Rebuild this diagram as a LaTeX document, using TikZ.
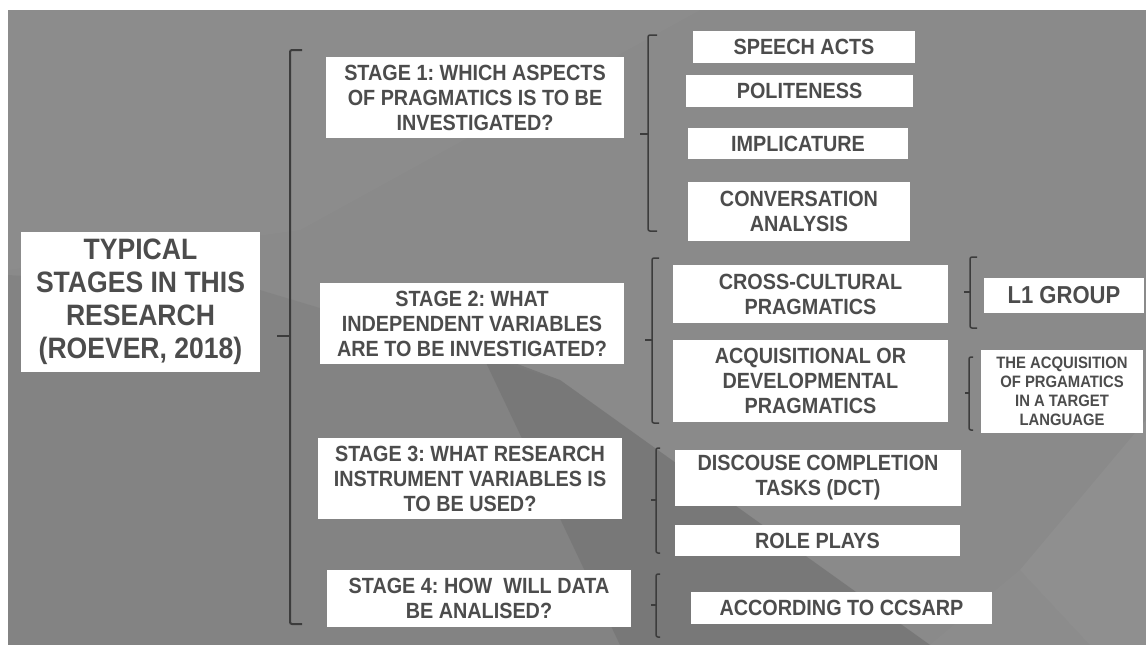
\documentclass[tikz,border=0pt]{standalone}
\usepackage{fontspec}
\setmainfont{Liberation Sans}[FakeStretch=0.9]
\frenchspacing
\definecolor{bg}{HTML}{8A8A8A}
\definecolor{bgdark}{HTML}{767676}
\definecolor{bglight}{HTML}{939393}
\definecolor{txt}{HTML}{4C4C4C}
\definecolor{brk}{HTML}{3C3C3C}
\tikzset{
  box/.style={fill=white, inner sep=0pt, align=center, text=txt,
    font=\bfseries\fontsize{22}{25}\selectfont},
  bigbox/.style={box, font=\bfseries\fontsize{29.5}{33}\selectfont},
  smallbox/.style={box, font=\bfseries\fontsize{16.5}{19}\selectfont},
  lbox/.style={box, font=\bfseries\fontsize{24.5}{26}\selectfont},
  brkt/.style={draw=brk, line width=2pt, rounded corners=2pt},
  sbrkt/.style={draw=brk, line width=1.5pt, rounded corners=2pt},
}
\begin{document}
\begin{tikzpicture}[x=1pt,y=-1pt]
\useasboundingbox (0,0) rectangle (1146,645);
\fill[white] (0,0) rectangle (1146,645);
% background
\fill[bg] (8,10) rectangle (1146,645);
\fill[bglight, opacity=0.3] (8,10) -- (700,10) -- (300,230) -- (8,270) -- cycle;
\fill[bgdark, opacity=0.3] (8,275) -- (260,290) -- (560,380) -- (930,645) -- (8,645) -- cycle;
\fill[bgdark, opacity=0.8] (480,350) -- (560,380) -- (930,645) -- (620,645) -- cycle;
\fill[bglight, opacity=0.6] (1146,420) -- (1020,570) -- (1090,645) -- (1146,645) -- cycle;
\fill[bglight, opacity=0.3] (1020,570) -- (930,645) -- (1090,645) -- cycle;

% root
\node[bigbox, minimum width=239pt, minimum height=140pt] (main) at (140.5,302)
  {TYPICAL\\STAGES IN THIS\\RESEARCH\\(ROEVER, 2018)};

% stages
\node[box, minimum width=298pt, minimum height=81pt] (s1) at (475,97.5)
  {STAGE 1: WHICH ASPECTS\\OF PRAGMATICS IS TO BE\\INVESTIGATED?};
\node[box, minimum width=304pt, minimum height=81pt] (s2) at (472,323.5)
  {STAGE 2: WHAT\\INDEPENDENT VARIABLES\\ARE TO BE INVESTIGATED?};
\node[box, minimum width=304pt, minimum height=81pt] (s3) at (470,478.5)
  {STAGE 3: WHAT RESEARCH\\INSTRUMENT VARIABLES IS\\TO BE USED?};
\node[box, minimum width=304pt, minimum height=57pt] (s4) at (479,598.5)
  {STAGE 4: HOW\ \ WILL DATA\\BE ANALISED?};

% stage 1 items
\node[box, minimum width=222pt, minimum height=32pt] (c1) at (804,47) {SPEECH ACTS};
\node[box, minimum width=227pt, minimum height=32pt] (c2) at (799.5,91) {POLITENESS};
\node[box, minimum width=220pt, minimum height=31pt] (c3) at (798,143.5) {IMPLICATURE};
\node[box, minimum width=222pt, minimum height=59pt] (c4) at (799,211.5) {CONVERSATION\\ANALYSIS};
% stage 2 items
\node[box, minimum width=275pt, minimum height=58pt] (c5) at (810.5,294) {CROSS-CULTURAL\\PRAGMATICS};
\node[box, minimum width=275pt, minimum height=82pt] (c6) at (810.5,381) {ACQUISITIONAL OR\\DEVELOPMENTAL\\PRAGMATICS};
% stage 3 items
\node[box, minimum width=286pt, minimum height=56pt] (c7) at (818,478) {DISCOUSE COMPLETION\\TASKS (DCT)};
\node[box, minimum width=285pt, minimum height=31pt] (c8) at (817.5,540.5) {ROLE PLAYS};
% stage 4 item
\node[box, minimum width=301pt, minimum height=32pt] (c9) at (841.5,608) {ACCORDING TO CCSARP};
% level 3
\node[lbox, minimum width=160pt, minimum height=35pt] (g1) at (1064,295.5) {L1 GROUP};
\node[smallbox, minimum width=162pt, minimum height=83pt] (g2) at (1062,391.5)
  {THE ACQUISITION\\OF PRGAMATICS\\IN A TARGET\\LANGUAGE};

% brackets
\coordinate (b0t) at (302,50);  \coordinate (b0b) at (302,624);  \coordinate (b0m) at (277,336);
\draw[brkt] (b0t) -- ++(-12,0) |- (b0b);
\draw[brkt] (b0m) -- ++(13,0);

\coordinate (b1t) at (657,35);  \coordinate (b1b) at (657,231);  \coordinate (b1m) at (640,134);
\draw[sbrkt] (b1t) -- ++(-9,0) |- (b1b);
\draw[sbrkt] (b1m) -- ++(8,0);

\coordinate (b2t) at (659,258); \coordinate (b2b) at (659,423); \coordinate (b2m) at (645,340);
\draw[sbrkt] (b2t) -- ++(-7,0) |- (b2b);
\draw[sbrkt] (b2m) -- ++(7,0);

\coordinate (b3t) at (660,448); \coordinate (b3b) at (660,553); \coordinate (b3m) at (651,500);
\draw[sbrkt] (b3t) -- ++(-4,0) |- (b3b);
\draw[sbrkt] (b3m) -- ++(5,0);

\coordinate (b4t) at (660,574); \coordinate (b4b) at (660,637); \coordinate (b4m) at (651,605);
\draw[sbrkt] (b4t) -- ++(-4,0) |- (b4b);
\draw[sbrkt] (b4m) -- ++(5,0);

\coordinate (b5t) at (977,257); \coordinate (b5b) at (977,328); \coordinate (b5m) at (964,292);
\draw[sbrkt] (b5t) -- ++(-7,0) |- (b5b);
\draw[sbrkt] (b5m) -- ++(6,0);

\coordinate (b6t) at (973,357); \coordinate (b6b) at (973,430); \coordinate (b6m) at (965,393);
\draw[sbrkt] (b6t) -- ++(-4,0) |- (b6b);
\draw[sbrkt] (b6m) -- ++(4,0);
\end{tikzpicture}
\end{document}
